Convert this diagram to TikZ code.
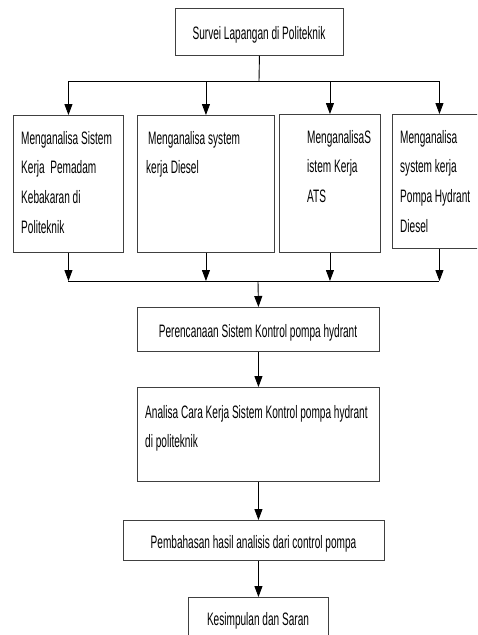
\documentclass[tikz,border=0pt]{standalone}
\usepackage{fontspec}
\setmainfont[FakeStretch=0.56]{Liberation Sans}
\usetikzlibrary{arrows.meta}
\begin{document}
\begin{tikzpicture}[x=1pt,y=-1pt,
  box/.style={draw=black!75,line width=0.9pt,anchor=north west,inner sep=0pt,minimum width=#1},
  txt/.style={inner sep=0pt,align=left,anchor=north west,font=\fontsize{18}{29.7}\selectfont},
  ctxt/.style={inner sep=0pt,anchor=base,font=\fontsize{18}{29.7}\selectfont},
  conn/.style={draw=black,line width=0.9pt},
  arr/.style={conn,-{Triangle[width=8pt,length=11pt]}}]
\useasboundingbox (0,0) rectangle (477,635);
\clip (0,0) rectangle (477,635);
% boxes
\node[box=168pt,minimum height=47pt] (top) at (175,8) {};
\node[box=110pt,minimum height=137pt] (b1) at (13,115) {};
\node[box=137pt,minimum height=137pt] (b2) at (137,115) {};
\node[box=101pt,minimum height=138pt] (b3) at (279,114) {};
\node[box=94pt,minimum height=134pt] (b4) at (392,114) {};
\node[box=242pt,minimum height=44pt] (per) at (137,307) {};
\node[box=242pt,minimum height=94pt] (ana) at (137,387) {};
\node[box=261pt,minimum height=40pt] (pem) at (123,520) {};
\node[box=140pt,minimum height=50pt] (kes) at (188,597) {};
% texts
\node[ctxt] (ttop) at (259,39) {Survei Lapangan di Politeknik};
\node[txt] (t1) at (21,131) {Menganalisa Sistem\\Kerja\ \ Pemadam\\Kebakaran di\\Politeknik};
\node[txt] (t2) at (146,131) {\hspace{2pt}Menganalisa system\\kerja Diesel};
\node[txt] (t3) at (307,130) {MenganalisaS\\istem Kerja\\ATS};
\node[txt] (t4) at (400,130) {Menganalisa\\system kerja\\Pompa Hydrant\\Diesel};
\node[ctxt] (tper) at (258,337) {Perencanaan Sistem Kontrol pompa hydrant};
\node[txt] (tana) at (145,405) {Analisa Cara Kerja Sistem Kontrol pompa hydrant\\di politeknik};
\node[ctxt] (tpem) at (253.5,548) {Pembahasan hasil analisis dari control pompa};
\node[ctxt] (tkes) at (258,625) {Kesimpulan dan Saran};
% top distribution
\coordinate (j1) at (259,81);
\coordinate (l1) at (68,81);
\coordinate (r1) at (439,81);
\draw[conn] (top.south) -- (j1);
\draw[conn] (l1) -- (r1);
\draw[arr] (b1.north |- l1) -- (b1.north);
\draw[arr] (b2.north |- l1) -- (b2.north);
\draw[arr] (b3.north |- l1) -- (b3.north);
\draw[arr] (b4.north |- l1) -- (b4.north);
% bottom collection
\coordinate (l2) at (68,281);
\coordinate (r2) at (439,281);
\coordinate (j2) at (258,281);
\draw[arr] (b1.south) -- (b1.south |- l2);
\draw[arr] (b2.south) -- (b2.south |- l2);
\draw[arr] (b3.south) -- (b3.south |- l2);
\draw[arr] (b4.south) -- (b4.south |- l2);
\draw[conn] (l2) -- (r2);
\draw[arr] (j2) -- (per.north);
\draw[arr] (per.south) -- (ana.north);
\draw[arr] (ana.south) -- (ana.south |- pem.north);
\draw[arr] (kes.north |- pem.south) -- (kes.north);
\end{tikzpicture}
\end{document}
